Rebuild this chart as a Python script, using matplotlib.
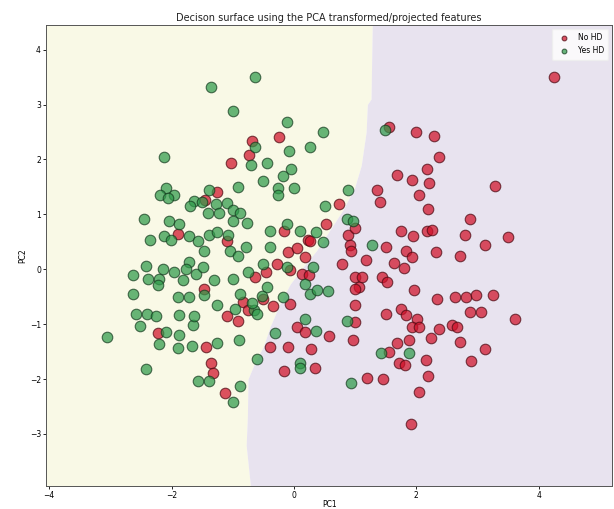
import numpy as np
import matplotlib
matplotlib.use("Agg")
import matplotlib.pyplot as plt

# decision boundary (PC1 value where the predicted class flips, per PC2 level)
boundary_pc2 = [4.45, 3.10, 3.00, 2.50, 1.89, 1.48, 1.06, 0.70, 0.34, 0.04,
                -0.27, -0.63, -1.05, -1.41, -1.68, -2.00, -2.67, -3.21, -3.95]
boundary_pc1 = [1.28, 1.26, 1.20, 1.18, 1.10, 0.99, 0.79, 0.58, 0.37, 0.15,
                -0.06, -0.23, -0.39, -0.50, -0.63, -0.75, -0.76, -0.78, -0.71]

# projected samples, no heart disease
no_hd_pc1 = [-0.24, -0.68, -0.73, -1.02, -1.25, -1.46, -0.16, 0.23, -1.90, -1.10,
             -0.10, 0.05, 0.18, -0.63, -0.45, -0.06, 0.13, -1.47, -0.84, -0.50,
             -0.34, -0.06, -2.22, -1.43, -1.09, -0.92, -1.36, -1.33, -1.13, -0.39,
             -0.10, -0.16, 0.05, 0.18, -0.75, 1.56, 1.99, 2.29, 2.37, 2.17,
             1.69, 1.93, 2.20, 2.04, 1.35, 1.41, 2.19, 3.29, 2.88, 3.50,
             3.13, 2.80, 2.72, 2.32, 2.17, 2.25, 1.94, 1.75, 1.83, 1.93,
             1.51, 1.64, 1.80, 1.18, 0.79, 0.88, 0.99, 0.91, 0.94, 0.73,
             0.52, 0.26, 1.00, 1.12, 1.07, 1.44, 1.52, 1.96, 0.24, 1.00,
             1.00, 2.33, 2.64, 2.82, 2.97, 3.26, 2.88, 3.06, 3.61, 1.51,
             1.75, 1.83, 2.01, 1.93, 2.04, 2.37, 2.58, 2.66, 2.72, 2.24,
             1.88, 1.69, 3.13, 2.90, 2.16, 2.19, 2.04, 1.91, 1.72, 1.82,
             1.56, 1.46, 1.20, 0.99, 0.96, 0.57, 0.28, 0.34, 4.25, -0.28]
no_hd_pc2 = [2.40, 2.34, 2.09, 1.93, 1.41, 1.26, 0.70, 0.54, 0.65, 0.52,
             0.32, 0.38, 0.22, -0.14, -0.05, -0.02, -0.09, -0.36, -0.59, -0.54,
             -0.67, -0.63, -1.17, -1.41, -0.86, -0.95, -1.71, -1.89, -2.25, -1.41,
             -1.41, -1.86, -1.05, -1.14, -0.74, 2.59, 2.50, 2.43, 2.05, 1.82,
             1.71, 1.62, 1.57, 1.35, 1.44, 1.23, 1.10, 1.51, 0.92, 0.58,
             0.45, 0.63, 0.25, 0.31, 0.70, 0.72, 0.61, 0.70, 0.34, 0.22,
             0.40, 0.11, 0.02, 0.16, 0.09, 0.63, 0.76, 0.45, 0.34, 1.19,
             0.83, 0.52, -0.14, -0.14, -0.32, -0.14, -0.23, -0.38, -0.11, -0.36,
             -0.65, -0.54, -0.50, -0.50, -0.47, -0.47, -0.77, -0.77, -0.90, -0.81,
             -0.72, -0.83, -0.90, -1.05, -1.06, -1.08, -1.01, -1.06, -1.32, -1.26,
             -1.28, -1.35, -1.46, -1.68, -1.66, -1.95, -2.23, -2.81, -1.71, -1.75,
             -1.51, -2.00, -1.98, -0.97, -1.28, -1.21, -1.46, -1.80, 3.50, 0.09]

# projected samples, heart disease present
yes_hd_pc1 = [-0.63, -1.35, -1.00, -0.11, -0.63, -0.08, 0.26, -2.12, -0.70, -0.44,
              -0.05, -0.18, -0.50, -0.26, -0.26, 0.00, -0.91, -1.39, -2.09, -2.19,
              -1.96, -2.06, -1.64, -1.69, -1.28, -1.09, -1.41, -1.23, -0.99, -0.88,
              -1.00, -0.76, -2.45, -2.04, -1.88, -0.11, 0.10, -0.39, -2.35, -2.12,
              -2.01, -1.72, -1.57, -1.39, -1.25, -1.07, -1.47, -0.79, -1.04, -0.92,
              -0.39, -1.72, -2.41, -2.63, -2.38, -2.20, -2.14, -1.96, -1.77, -1.60,
              -1.49, -1.31, -0.99, -0.75, -0.50, -0.44, -0.18, -1.47, -2.63, -2.22,
              -1.82, -1.90, -1.72, -1.25, -0.88, -0.66, -2.09, -1.88, -3.06, -2.51,
              -2.58, -2.40, -2.25, -1.88, -1.65, -1.64, -2.20, -1.90, -1.67, -1.25,
              -0.89, -1.38, -1.57, -2.41, -1.00, -0.88, -0.60, 0.10, 0.10, -0.31,
              0.18, -0.68, -0.60, -0.96, -0.52, 0.47, 1.49, 1.28, 0.86, 0.96,
              0.88, 0.50, 0.36, 0.47, 0.26, 0.37, 0.55, 0.86, 0.36, 1.88,
              1.43, 0.94, -1.51, 0.18, 0.31, -0.11]
yes_hd_pc2 = [3.51, 3.32, 2.88, 2.68, 2.22, 2.16, 2.22, 2.04, 1.89, 1.93,
              1.82, 1.69, 1.60, 1.48, 1.35, 1.48, 1.50, 1.44, 1.48, 1.35,
              1.35, 1.30, 1.24, 1.15, 1.19, 1.21, 1.03, 1.03, 1.08, 1.03,
              0.88, 0.85, 0.92, 0.88, 0.83, 0.83, 0.70, 0.70, 0.54, 0.61,
              0.54, 0.61, 0.52, 0.63, 0.67, 0.63, 0.34, 0.40, 0.34, 0.25,
              0.41, 0.13, 0.05, -0.11, -0.18, -0.18, 0.00, -0.05, 0.00, -0.09,
              0.04, -0.20, -0.18, -0.05, 0.09, -0.32, -0.50, -0.47, -0.45, -0.29,
              -0.20, -0.50, -0.50, -0.65, -0.45, -0.74, -1.14, -1.19, -1.24, -1.03,
              -0.81, -0.81, -0.86, -0.83, -1.01, -0.86, -1.37, -1.44, -1.39, -1.35,
              -1.28, -2.04, -2.04, -1.82, -2.41, -2.13, -1.64, -1.71, -1.80, -1.17,
              -0.90, -0.61, -0.81, -0.72, -0.49, 2.50, 2.54, 0.45, 0.92, 0.88,
              1.44, 1.15, 0.68, 0.49, -0.45, -0.38, -0.40, -0.94, -1.12, -1.53,
              -1.53, -2.07, 1.23, -0.27, 0.04, 0.04]

x_lo, x_hi = -4.05, 5.2
y_lo, y_hi = -3.95, 4.45

fig = plt.figure(figsize=(6.14, 5.09), dpi=100)
ax = fig.add_axes([0.075, 0.045, 0.922, 0.906])

# classifier regions
ax.fill_betweenx(boundary_pc2, x_lo, boundary_pc1, color="#f9f9e6", lw=0)
ax.fill_betweenx(boundary_pc2, boundary_pc1, x_hi, color="#e8e3ef", lw=0)

ax.scatter(no_hd_pc1, no_hd_pc2, s=58, c="#d01028", edgecolors="#4a0810",
           linewidths=0.8, alpha=0.72, label="No HD")
ax.scatter(yes_hd_pc1, yes_hd_pc2, s=58, c="#2f9a4a", edgecolors="#143a1e",
           linewidths=0.8, alpha=0.72, label="Yes HD")

ax.set_xlim(x_lo, x_hi)
ax.set_ylim(y_lo, y_hi)
ax.set_xticks([-4, -2, 0, 2, 4])
ax.set_yticks([-3, -2, -1, 0, 1, 2, 3, 4])
ax.tick_params(labelsize=5.5, length=2.5, width=0.6, pad=1.2)
for sp in ax.spines.values():
    sp.set_linewidth(0.7)
    sp.set_color("#555555")

ax.set_title("Decison surface using the PCA transformed/projected features",
             fontsize=7, color="#222222", pad=3)
ax.set_xlabel("PC1", fontsize=5.5, labelpad=0)
ax.set_ylabel("PC2", fontsize=5.5, labelpad=2)

leg = ax.legend(loc="upper right", fontsize=5.5, markerscale=0.45,
                frameon=True, framealpha=0.8, edgecolor="#eeeeee",
                handletextpad=0.8, borderpad=0.6)

fig.savefig("out.png", dpi=100)
